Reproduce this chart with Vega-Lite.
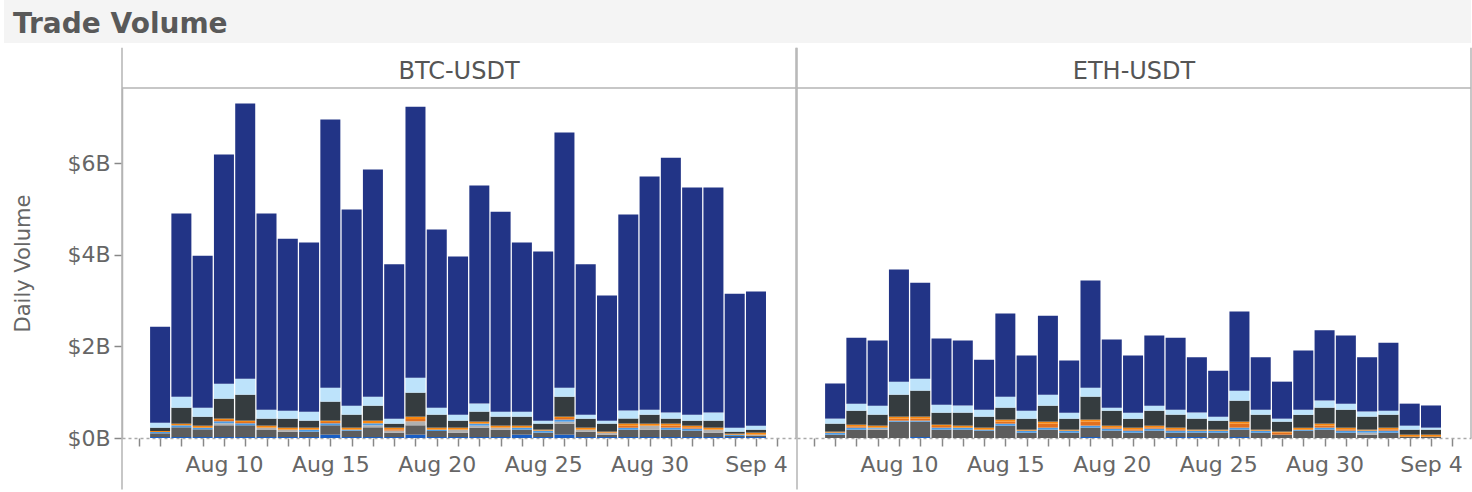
{
  "$schema": "https://vega.github.io/schema/vega-lite/v6.json",
  "padding": {"left": 3, "top": 0, "right": 0, "bottom": 0},
  "background": "white",
  "config": {"font": "DejaVu Sans", "view": {"stroke": null}, "axisX": {"labelOverlap": false}},
  "columns": 1,
  "spacing": 3,
  "concat": [
    {
      "width": 1349,
      "height": 43,
      "data": {"values": [{"label": "Trade Volume"}]},
      "layer": [
        {
          "mark": {"type": "rect", "color": "#f4f4f4", "clip": false},
          "encoding": {
            "x": {"datum": -0.0875, "type": "quantitative", "scale": {"domain": [0, 1], "nice": false, "zero": false, "padding": 0}, "axis": null},
            "x2": {"datum": 1}
          }
        },
        {
          "mark": {"type": "text", "align": "left", "baseline": "alphabetic", "fontSize": 28, "fontWeight": "bold", "color": "#595959", "font": "DejaVu Sans", "clip": false},
          "encoding": {
            "text": {"field": "label"},
            "x": {"datum": -0.0808, "type": "quantitative", "axis": null},
            "y": {"datum": 0.2326, "type": "quantitative", "scale": {"domain": [0, 1], "nice": false, "zero": false}, "axis": null}
          }
        }
      ]
    },
    {
      "data": {"values": [
        {"pair": "BTC-USDT", "date": "2023-08-07", "A": 0.022, "B": 0.08, "C": 0, "D": 0.029, "E": 0, "F": 0.022, "G": 0.073, "H": 0.109, "I": 2.095},
        {"pair": "BTC-USDT", "date": "2023-08-08", "A": 0.022, "B": 0.211, "C": 0, "D": 0.044, "E": 0, "F": 0.036, "G": 0.349, "H": 0.24, "I": 3.998},
        {"pair": "BTC-USDT", "date": "2023-08-09", "A": 0.022, "B": 0.167, "C": 0, "D": 0.036, "E": 0, "F": 0.044, "G": 0.196, "H": 0.196, "I": 3.319},
        {"pair": "BTC-USDT", "date": "2023-08-10", "A": 0.022, "B": 0.255, "C": 0.044, "D": 0.044, "E": 0.029, "F": 0.029, "G": 0.436, "H": 0.327, "I": 5.004},
        {"pair": "BTC-USDT", "date": "2023-08-11", "A": 0.022, "B": 0.255, "C": 0, "D": 0.044, "E": 0.029, "F": 0.029, "G": 0.567, "H": 0.349, "I": 6.005},
        {"pair": "BTC-USDT", "date": "2023-08-12", "A": 0.022, "B": 0.153, "C": 0.051, "D": 0, "E": 0, "F": 0.044, "G": 0.153, "H": 0.196, "I": 4.281},
        {"pair": "BTC-USDT", "date": "2023-08-13", "A": 0.022, "B": 0.116, "C": 0.044, "D": 0, "E": 0, "F": 0.044, "G": 0.196, "H": 0.175, "I": 3.753},
        {"pair": "BTC-USDT", "date": "2023-08-14", "A": 0.022, "B": 0.116, "C": 0, "D": 0.044, "E": 0, "F": 0.044, "G": 0.153, "H": 0.196, "I": 3.695},
        {"pair": "BTC-USDT", "date": "2023-08-15", "A": 0.073, "B": 0.204, "C": 0, "D": 0.044, "E": 0.029, "F": 0.029, "G": 0.415, "H": 0.305, "I": 5.851},
        {"pair": "BTC-USDT", "date": "2023-08-16", "A": 0.022, "B": 0.138, "C": 0, "D": 0.022, "E": 0, "F": 0.044, "G": 0.284, "H": 0.196, "I": 4.284},
        {"pair": "BTC-USDT", "date": "2023-08-17", "A": 0.022, "B": 0.211, "C": 0.044, "D": 0.044, "E": 0, "F": 0.058, "G": 0.327, "H": 0.196, "I": 4.958},
        {"pair": "BTC-USDT", "date": "2023-08-18", "A": 0.022, "B": 0.095, "C": 0.044, "D": 0, "E": 0.029, "F": 0.036, "G": 0.087, "H": 0.109, "I": 3.368},
        {"pair": "BTC-USDT", "date": "2023-08-19", "A": 0.073, "B": 0.204, "C": 0.087, "D": 0, "E": 0.051, "F": 0.051, "G": 0.524, "H": 0.327, "I": 5.913},
        {"pair": "BTC-USDT", "date": "2023-08-20", "A": 0.022, "B": 0.131, "C": 0, "D": 0.029, "E": 0, "F": 0.044, "G": 0.284, "H": 0.153, "I": 3.887},
        {"pair": "BTC-USDT", "date": "2023-08-21", "A": 0.022, "B": 0.095, "C": 0.065, "D": 0, "E": 0, "F": 0.044, "G": 0.153, "H": 0.131, "I": 3.45},
        {"pair": "BTC-USDT", "date": "2023-08-22", "A": 0.022, "B": 0.204, "C": 0.044, "D": 0.044, "E": 0, "F": 0.044, "G": 0.218, "H": 0.175, "I": 4.759},
        {"pair": "BTC-USDT", "date": "2023-08-23", "A": 0.022, "B": 0.16, "C": 0.044, "D": 0, "E": 0, "F": 0.044, "G": 0.196, "H": 0.109, "I": 4.365},
        {"pair": "BTC-USDT", "date": "2023-08-24", "A": 0.073, "B": 0.109, "C": 0, "D": 0.044, "E": 0, "F": 0.044, "G": 0.196, "H": 0.109, "I": 3.695},
        {"pair": "BTC-USDT", "date": "2023-08-25", "A": 0.022, "B": 0.095, "C": 0, "D": 0.044, "E": 0, "F": 0.022, "G": 0.131, "H": 0.065, "I": 3.691},
        {"pair": "BTC-USDT", "date": "2023-08-26", "A": 0.073, "B": 0.24, "C": 0.044, "D": 0.044, "E": 0.036, "F": 0.029, "G": 0.436, "H": 0.196, "I": 5.572},
        {"pair": "BTC-USDT", "date": "2023-08-27", "A": 0.022, "B": 0.116, "C": 0.044, "D": 0, "E": 0, "F": 0.044, "G": 0.196, "H": 0.087, "I": 3.281},
        {"pair": "BTC-USDT", "date": "2023-08-28", "A": 0.022, "B": 0.051, "C": 0.044, "D": 0, "E": 0, "F": 0.022, "G": 0.175, "H": 0.065, "I": 2.731},
        {"pair": "BTC-USDT", "date": "2023-08-29", "A": 0.022, "B": 0.16, "C": 0, "D": 0.044, "E": 0.044, "F": 0.044, "G": 0.109, "H": 0.175, "I": 4.282},
        {"pair": "BTC-USDT", "date": "2023-08-30", "A": 0.022, "B": 0.16, "C": 0.087, "D": 0, "E": 0, "F": 0.044, "G": 0.196, "H": 0.109, "I": 5.092},
        {"pair": "BTC-USDT", "date": "2023-08-31", "A": 0.022, "B": 0.16, "C": 0, "D": 0.044, "E": 0.044, "F": 0.044, "G": 0.109, "H": 0.131, "I": 5.566},
        {"pair": "BTC-USDT", "date": "2023-09-01", "A": 0.022, "B": 0.138, "C": 0, "D": 0.044, "E": 0.029, "F": 0.036, "G": 0.109, "H": 0.131, "I": 4.961},
        {"pair": "BTC-USDT", "date": "2023-09-02", "A": 0.022, "B": 0.095, "C": 0.065, "D": 0, "E": 0, "F": 0.044, "G": 0.153, "H": 0.175, "I": 4.916},
        {"pair": "BTC-USDT", "date": "2023-09-03", "A": 0.022, "B": 0.022, "C": 0, "D": 0.029, "E": 0, "F": 0.022, "G": 0.044, "H": 0.087, "I": 2.924},
        {"pair": "BTC-USDT", "date": "2023-09-04", "A": 0.022, "B": 0.022, "C": 0.029, "D": 0, "E": 0, "F": 0.044, "G": 0.065, "H": 0.087, "I": 2.931},
        {"pair": "ETH-USDT", "date": "2023-08-07", "A": 0, "B": 0.073, "C": 0, "D": 0.044, "E": 0, "F": 0.022, "G": 0.175, "H": 0.109, "I": 0.767},
        {"pair": "ETH-USDT", "date": "2023-08-08", "A": 0, "B": 0.182, "C": 0, "D": 0.044, "E": 0.029, "F": 0.036, "G": 0.305, "H": 0.153, "I": 1.441},
        {"pair": "ETH-USDT", "date": "2023-08-09", "A": 0, "B": 0.182, "C": 0.022, "D": 0.022, "E": 0, "F": 0.044, "G": 0.24, "H": 0.196, "I": 1.424},
        {"pair": "ETH-USDT", "date": "2023-08-10", "A": 0, "B": 0.356, "C": 0, "D": 0.022, "E": 0.044, "F": 0.044, "G": 0.48, "H": 0.284, "I": 2.45},
        {"pair": "ETH-USDT", "date": "2023-08-11", "A": 0.022, "B": 0.335, "C": 0, "D": 0.022, "E": 0.044, "F": 0.044, "G": 0.567, "H": 0.262, "I": 2.094},
        {"pair": "ETH-USDT", "date": "2023-08-12", "A": 0, "B": 0.182, "C": 0, "D": 0.044, "E": 0.036, "F": 0.029, "G": 0.262, "H": 0.175, "I": 1.442},
        {"pair": "ETH-USDT", "date": "2023-08-13", "A": 0, "B": 0.182, "C": 0, "D": 0.044, "E": 0, "F": 0.044, "G": 0.284, "H": 0.153, "I": 1.423},
        {"pair": "ETH-USDT", "date": "2023-08-14", "A": 0, "B": 0.16, "C": 0, "D": 0.022, "E": 0, "F": 0.044, "G": 0.24, "H": 0.153, "I": 1.091},
        {"pair": "ETH-USDT", "date": "2023-08-15", "A": 0, "B": 0.269, "C": 0, "D": 0.044, "E": 0.044, "F": 0.044, "G": 0.262, "H": 0.24, "I": 1.817},
        {"pair": "ETH-USDT", "date": "2023-08-16", "A": 0, "B": 0.116, "C": 0, "D": 0.044, "E": 0, "F": 0.022, "G": 0.24, "H": 0.175, "I": 1.203},
        {"pair": "ETH-USDT", "date": "2023-08-17", "A": 0, "B": 0.182, "C": 0, "D": 0.044, "E": 0.087, "F": 0.044, "G": 0.349, "H": 0.24, "I": 1.724},
        {"pair": "ETH-USDT", "date": "2023-08-18", "A": 0, "B": 0.116, "C": 0, "D": 0.044, "E": 0, "F": 0.022, "G": 0.24, "H": 0.131, "I": 1.137},
        {"pair": "ETH-USDT", "date": "2023-08-19", "A": 0.022, "B": 0.204, "C": 0, "D": 0.044, "E": 0.087, "F": 0.044, "G": 0.502, "H": 0.196, "I": 2.341},
        {"pair": "ETH-USDT", "date": "2023-08-20", "A": 0, "B": 0.16, "C": 0, "D": 0.044, "E": 0.029, "F": 0.036, "G": 0.327, "H": 0.065, "I": 1.489},
        {"pair": "ETH-USDT", "date": "2023-08-21", "A": 0, "B": 0.116, "C": 0, "D": 0.044, "E": 0.029, "F": 0.036, "G": 0.196, "H": 0.131, "I": 1.248},
        {"pair": "ETH-USDT", "date": "2023-08-22", "A": 0, "B": 0.16, "C": 0, "D": 0.044, "E": 0.029, "F": 0.036, "G": 0.327, "H": 0.109, "I": 1.535},
        {"pair": "ETH-USDT", "date": "2023-08-23", "A": 0.022, "B": 0.095, "C": 0, "D": 0.044, "E": 0.029, "F": 0.036, "G": 0.284, "H": 0.109, "I": 1.571},
        {"pair": "ETH-USDT", "date": "2023-08-24", "A": 0.022, "B": 0.095, "C": 0, "D": 0.044, "E": 0, "F": 0.022, "G": 0.24, "H": 0.131, "I": 1.206},
        {"pair": "ETH-USDT", "date": "2023-08-25", "A": 0, "B": 0.116, "C": 0, "D": 0.044, "E": 0, "F": 0.022, "G": 0.196, "H": 0.087, "I": 1.005},
        {"pair": "ETH-USDT", "date": "2023-08-26", "A": 0.022, "B": 0.16, "C": 0, "D": 0.044, "E": 0.087, "F": 0.044, "G": 0.458, "H": 0.218, "I": 1.727},
        {"pair": "ETH-USDT", "date": "2023-08-27", "A": 0, "B": 0.116, "C": 0, "D": 0.044, "E": 0, "F": 0.022, "G": 0.327, "H": 0.109, "I": 1.142},
        {"pair": "ETH-USDT", "date": "2023-08-28", "A": 0, "B": 0.073, "C": 0, "D": 0, "E": 0.044, "F": 0.022, "G": 0.218, "H": 0.065, "I": 0.808},
        {"pair": "ETH-USDT", "date": "2023-08-29", "A": 0, "B": 0.16, "C": 0, "D": 0.022, "E": 0, "F": 0.044, "G": 0.284, "H": 0.109, "I": 1.291},
        {"pair": "ETH-USDT", "date": "2023-08-30", "A": 0, "B": 0.182, "C": 0, "D": 0.044, "E": 0.044, "F": 0.044, "G": 0.349, "H": 0.153, "I": 1.534},
        {"pair": "ETH-USDT", "date": "2023-08-31", "A": 0, "B": 0.116, "C": 0, "D": 0.044, "E": 0.029, "F": 0.036, "G": 0.393, "H": 0.131, "I": 1.491},
        {"pair": "ETH-USDT", "date": "2023-09-01", "A": 0, "B": 0.073, "C": 0.044, "D": 0.044, "E": 0, "F": 0.022, "G": 0.284, "H": 0.109, "I": 1.184},
        {"pair": "ETH-USDT", "date": "2023-09-02", "A": 0, "B": 0.116, "C": 0, "D": 0.044, "E": 0.029, "F": 0.036, "G": 0.284, "H": 0.087, "I": 1.484},
        {"pair": "ETH-USDT", "date": "2023-09-03", "A": 0, "B": 0.029, "C": 0, "D": 0, "E": 0, "F": 0.044, "G": 0.109, "H": 0.087, "I": 0.481},
        {"pair": "ETH-USDT", "date": "2023-09-04", "A": 0, "B": 0.029, "C": 0, "D": 0, "E": 0, "F": 0.044, "G": 0.109, "H": 0.044, "I": 0.484}
      ]},
      "transform": [{"fold": ["A", "B", "C", "D", "E", "F", "G", "H", "I"], "as": ["venue", "vol"]}],
      "facet": {
        "column": {
          "field": "pair", "type": "nominal", "title": null,
          "header": {"labelFontSize": 24, "labelColor": "#555555", "labelFont": "DejaVu Sans", "labelPadding": 4}
        }
      },
      "spacing": 1,
      "bounds": "flush",
      "spec": {
        "width": 674,
        "height": 350,
        "layer": [
          {
            "mark": {"type": "bar", "width": 20},
            "encoding": {
              "x": {
                "field": "date", "type": "temporal", "title": null,
                "scale": {"type": "utc", "domain": [1691211744000, 1693948032000], "nice": false, "padding": 0},
                "axis": {
                  "values": [1691625600000, 1691280000000, 1692057600000, 1691366400000, 1692489600000, 1691452800000, 1692921600000, 1691539200000, 1693353600000, 1691712000000, 1693785600000, 1691798400000, 1691884800000, 1691971200000, 1692144000000, 1692230400000, 1692316800000, 1692403200000, 1692576000000, 1692662400000, 1692748800000, 1692835200000, 1693008000000, 1693094400000, 1693180800000, 1693267200000, 1693440000000, 1693526400000, 1693612800000, 1693699200000, 1693872000000],
                  "tickCount": 40,
                  "labelExpr": "(round((datum.value - 1691625600000) / 86400000) % 5 == 0) ? utcFormat(datum.value, '%b %-d') : ''",
                  "tickSize": 8,
                  "encode": {"ticks": {"update": {"y2": {"signal": "(round((datum.value - 1691625600000) / 86400000) % 5 == 0) ? 8 : 4"}}}},
                  "tickColor": "#888888", "tickWidth": 1.5,
                  "domainDash": [3, 3], "domainColor": "#aaaaaa", "domainWidth": 1.5,
                  "labelFontSize": 22, "labelColor": "#666666", "labelPadding": 8,
                  "labelFlush": false, "labelOverlap": false, "labelBound": false, "grid": false
                }
              },
              "y": {
                "field": "vol", "type": "quantitative", "stack": "zero", "title": "Daily Volume",
                "scale": {"domain": [0, 7.64], "nice": false},
                "axis": {
                  "values": [0, 2, 4, 6],
                  "labelExpr": "'$' + datum.value + 'B'",
                  "grid": false, "tickSize": 8, "tickColor": "#888888", "tickWidth": 1.5,
                  "domainColor": "#b5b5b5", "domainWidth": 1.5,
                  "labelFontSize": 22, "labelColor": "#666666", "labelPadding": 4,
                  "titleFontSize": 21, "titleFontWeight": "normal", "titleColor": "#666666", "titlePadding": 33
                }
              },
              "color": {
                "field": "venue", "type": "nominal", "legend": null,
                "scale": {
                  "domain": ["A", "B", "C", "D", "E", "F", "G", "H", "I"],
                  "range": ["#1a5fc4", "#5d5d5d", "#b0b0b0", "#4b9be6", "#e2701f", "#f7870f", "#353c3f", "#bde3fb", "#223486"]
                }
              },
              "order": {"field": "venue", "type": "nominal", "sort": "ascending"}
            }
          },
          {
            "transform": [{"aggregate": [{"op": "count", "as": "n"}], "groupby": ["pair"]}],
            "mark": {"type": "rule", "color": "#b5b5b5", "strokeWidth": 1.5, "clip": false},
            "encoding": {
              "x": {"datum": 1691211744000, "type": "temporal", "title": null},
              "y": {"datum": -1.124, "type": "quantitative", "title": "Daily Volume"},
              "y2": {"datum": 8.52}
            }
          },
          {
            "transform": [{"aggregate": [{"op": "count", "as": "n"}], "groupby": ["pair"]}],
            "mark": {"type": "rule", "color": "#b5b5b5", "strokeWidth": 1.5, "clip": false},
            "encoding": {
              "x": {"datum": 1693948032000, "type": "temporal", "title": null},
              "y": {"datum": 0, "type": "quantitative", "title": "Daily Volume"},
              "y2": {"datum": 8.52}
            }
          },
          {
            "transform": [{"aggregate": [{"op": "count", "as": "n"}], "groupby": ["pair"]}],
            "mark": {"type": "rule", "color": "#b5b5b5", "strokeWidth": 1.5, "clip": false},
            "encoding": {
              "y": {"datum": 7.64, "type": "quantitative", "title": "Daily Volume"}
            }
          }
        ]
      }
    }
  ]
}
